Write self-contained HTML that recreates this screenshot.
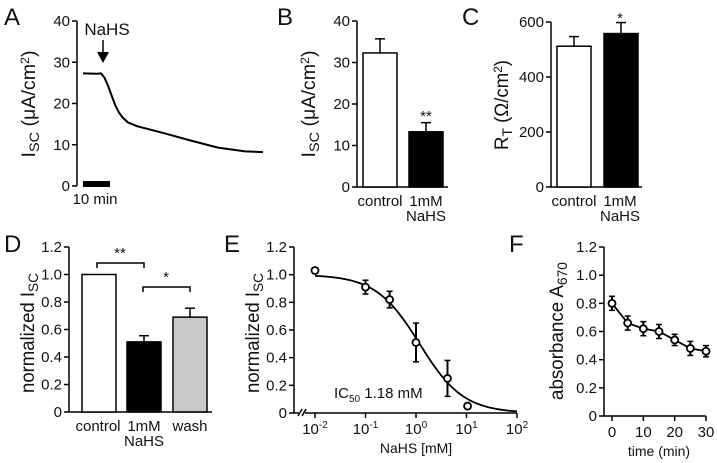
<!DOCTYPE html>
<html><head><meta charset="utf-8"><style>
body{margin:0;background:#fff}
svg{display:block;font-family:"Liberation Sans",Arial,sans-serif}
text{fill:#111}
</style></head><body>
<svg id="s" width="717" height="463" viewBox="0 0 717 463" xmlns="http://www.w3.org/2000/svg"></svg>
<script>
// ---- data ----
const traceT = [0, 8, 10, 12, 14, 16, 18, 20, 22, 25, 30, 45, 60, 75, 90, 100];
const traceV = [27.3, 27.2, 27.3, 26.2, 24.2, 21.8, 19.5, 17.8, 16.6, 15.4, 14.5, 12.8, 11, 9.3, 8.4, 8.2];
const bCats = ["control", "1mM NaHS"];
const bVals = [32.3, 13.3];
const bErrs = [3.4, 2.2];
const cVals = [512, 558];
const cErrs = [35, 40];
const dCats = ["control", "1mM NaHS", "wash"];
const dVals = [1.0, 0.51, 0.69];
const dErrs = [0, 0.045, 0.065];
const eConc = [0.01, 0.1, 0.3, 1, 4.2, 10.5];
const eVals = [1.03, 0.91, 0.82, 0.51, 0.25, 0.05];
const eErrs = [0.02, 0.05, 0.06, 0.14, 0.13, 0.01];
const eIC50 = 1.18;
const fTime = [0, 5, 10, 15, 20, 25, 30];
const fVals = [0.80, 0.66, 0.62, 0.60, 0.54, 0.48, 0.46];
const fErrs = [0.05, 0.05, 0.05, 0.05, 0.04, 0.05, 0.04];
const yTicks12 = [0, 0.2, 0.4, 0.6, 0.8, 1.0, 1.2];
const yTicks40 = [0, 10, 20, 30, 40];
const yTicks600 = [0, 200, 400, 600];

const S = document.getElementById('s');
const NS = 'http://www.w3.org/2000/svg';
function el(tag, attrs, name, txt) {
  const e = document.createElementNS(NS, tag);
  for (const k in attrs) e.setAttribute(k, attrs[k]);
  
  
  if (txt !== undefined) e.innerHTML = txt;
  S.appendChild(e);
  return e;
}
function line(x1,y1,x2,y2,name,w){return el('line',{x1,y1,x2,y2,stroke:'#000','stroke-width':w||1.5},name);}
function txt(x,y,s,name,size,anchor){return el('text',{x,y,'font-size':size||15,'text-anchor':anchor||'middle'},name,s);}
function yAxis(x, y0, y1, vmax, ticks, fmt, name){
  const sc = v => y0 - (y0 - y1) * v / vmax;
  line(x, y0, x, y1, name + '-line');
  ticks.forEach(t => {
    line(x - 5, sc(t), x, sc(t), name + '-tick');
    txt(x - 7, sc(t) + 5, fmt(t), name + '-tick-label', 15, 'end');
  });
  return sc;
}
function ylabel(x, y, len, html, name){
  return el('text',{x:0,y:0,'font-size':19,'text-anchor':'middle',textLength:len,lengthAdjust:'spacingAndGlyphs',transform:`translate(${x},${y}) rotate(-90)`},name,html);
}
function panelLetter(x,y,s){txt(x,y,s,'panel-label-'+s.toLowerCase(),24,'start');}
const f1 = t => t === 0 ? '0' : t.toFixed(1);

// ---- Panel A ----
panelLetter(4, 25, 'A');
const ayA = yAxis(77, 186, 21, 40, yTicks40, t => t, 'a-y-axis');
ylabel(35, 104, 107, 'I<tspan font-size="14" dy="4">SC</tspan><tspan dy="-4"> (μA/cm</tspan><tspan font-size="12" dy="-6">2</tspan><tspan dy="6">)</tspan>', 'a-y-axis-title');
const axA = t => 83 + t * 1.8;
el('polyline',{points: traceT.map((t,i)=>axA(t)+','+ayA(traceV[i])).join(' '),fill:'none',stroke:'#000','stroke-width':2,'stroke-linejoin':'round'},'a-isc-trace');
el('rect',{x:83,y:181,width:27,height:6,fill:'#000'},'a-scale-bar');
txt(95, 204, '10 min', 'a-scale-label', 15);
txt(107, 35, 'NaHS', 'a-nahs-label', 17);
line(103, 40, 103, 56, 'a-arrow-shaft');
el('polygon',{points:'97,52 109,52 103,63',fill:'#000'},'a-arrow-head');

// ---- bar helper ----
function bars(sc, xs, w, vals, errs, fills, name){
  vals.forEach((v,i)=>{
    const y = sc(v);
    if (errs[i] > 0) {
      line(xs[i]+w/2, y, xs[i]+w/2, sc(v+errs[i]), name+'-error-bar');
      line(xs[i]+w/2-5, sc(v+errs[i]), xs[i]+w/2+5, sc(v+errs[i]), name+'-error-cap');
    }
    el('rect',{x:xs[i],y:y,width:w,height:sc(0)-y,fill:fills[i],stroke:'#000','stroke-width':1.5},name+'-bar-'+i);
  });
}

// ---- Panel B ----
panelLetter(277, 25, 'B');
const ayB = yAxis(357, 187, 21, 40, yTicks40, t => t, 'b-y-axis');
line(357,187,448,187,'b-x-axis');
ylabel(315, 104, 107, 'I<tspan font-size="14" dy="4">SC</tspan><tspan dy="-4"> (μA/cm</tspan><tspan font-size="12" dy="-6">2</tspan><tspan dy="6">)</tspan>', 'b-y-axis-title');
bars(ayB, [363, 409], 34, bVals, bErrs, ['#fff','#000'], 'b');
txt(426, 121, '**', 'b-significance', 15);
txt(380, 206, 'control', 'b-x-label', 15);
txt(426, 206, '1mM', 'b-x-label', 15);
txt(426, 221, 'NaHS', 'b-x-label', 15);

// ---- Panel C ----
panelLetter(462, 25, 'C');
const ayC = yAxis(551, 187, 22, 600, yTicks600, t => t, 'c-y-axis');
line(551,187,642,187,'c-x-axis');
ylabel(508, 105, 90, 'R<tspan font-size="14" dy="4">T</tspan><tspan dy="-4"> (Ω/cm</tspan><tspan font-size="12" dy="-6">2</tspan><tspan dy="6">)</tspan>', 'c-y-axis-title');
bars(ayC, [557, 604], 34, cVals, cErrs, ['#fff','#000'], 'c');
txt(620, 23, '*', 'c-significance', 15);
txt(574, 206, 'control', 'c-x-label', 15);
txt(620, 206, '1mM', 'c-x-label', 15);
txt(620, 221, 'NaHS', 'c-x-label', 15);

// ---- Panel D ----
panelLetter(4, 252, 'D');
const ayD = yAxis(69, 412, 247, 1.2, yTicks12, f1, 'd-y-axis');
line(69,412,212,412,'d-x-axis');
ylabel(34, 333, 120, 'normalized I<tspan font-size="14" dy="4">SC</tspan>', 'd-y-axis-title');
bars(ayD, [82, 127, 173], 34, dVals, dErrs, ['#fff','#000','#c8c8c8'], 'd');
el('polyline',{points:'97,268 97,263 144,263 144,268',fill:'none',stroke:'#000','stroke-width':1.5},'d-bracket-1');
txt(120, 258, '**', 'd-significance', 15);
el('polyline',{points:'143,292 143,287 190,287 190,292',fill:'none',stroke:'#000','stroke-width':1.5},'d-bracket-2');
txt(166, 282, '*', 'd-significance', 15);
txt(98, 431, 'control', 'd-x-label', 15);
txt(144, 431, '1mM', 'd-x-label', 15);
txt(144, 446, 'NaHS', 'd-x-label', 15);
txt(190, 431, 'wash', 'd-x-label', 15);

// ---- Panel E ----
panelLetter(224, 252, 'E');
const ayE = yAxis(294, 413, 247, 1.2, yTicks12, f1, 'e-y-axis');
ylabel(259, 333, 120, 'normalized I<tspan font-size="14" dy="4">SC</tspan>', 'e-y-axis-title');
const axE = c => 315 + (Math.log10(c) + 2) * 50.5;
line(294,413,299,413,'e-x-axis-stub');
line(305,413,517,413,'e-x-axis');
line(298,416,302,409,'e-axis-break');line(302,416,306,409,'e-axis-break');
[-2,-1,0,1,2].forEach(p=>{
  const x = axE(Math.pow(10,p));
  line(x,413,x,418,'e-x-tick');
  txt(x,434,'10<tspan font-size="10" dy="-6">'+p+'</tspan>','e-x-tick-label',15);
});
txt(416, 453, 'NaHS [mM]', 'e-x-axis-title', 14);
let pts=[];
for(let k=0;k<=80;k++){const c=Math.pow(10,-2+k*0.05);pts.push(axE(c)+','+ayE(1/(1+c/eIC50)));}
el('polyline',{points:pts.join(' '),fill:'none',stroke:'#000','stroke-width':1.8},'e-fit-curve');
eConc.forEach((c,i)=>{
  const x=axE(c);
  line(x,ayE(eVals[i]-eErrs[i]),x,ayE(eVals[i]+eErrs[i]),'e-error-bar',2);
  line(x-3,ayE(eVals[i]-eErrs[i]),x+3,ayE(eVals[i]-eErrs[i]),'e-error-cap');
  line(x-3,ayE(eVals[i]+eErrs[i]),x+3,ayE(eVals[i]+eErrs[i]),'e-error-cap');
  el('circle',{cx:x,cy:ayE(eVals[i]),r:3.5,fill:'#fff',stroke:'#000','stroke-width':1.8},'e-point');
});
txt(334, 398, 'IC<tspan font-size="10" dy="4">50</tspan><tspan dy="-4"> 1.18 mM</tspan>', 'e-ic50-label', 15, 'start');

// ---- Panel F ----
panelLetter(509, 252, 'F');
const ayF = yAxis(604, 416, 247, 1.2, yTicks12, f1, 'f-y-axis');
ylabel(563, 331, 138, 'absorbance A<tspan font-size="14" dy="4">670</tspan>', 'f-y-axis-title');
const axF = t => 612 + t * 94/30;
line(604,416,706,416,'f-x-axis');
[0,10,20,30].forEach(t=>{line(axF(t),416,axF(t),421,'f-x-tick');txt(axF(t),437,t,'f-x-tick-label',15);});
txt(659, 456, 'time (min)', 'f-x-axis-title', 14);
el('polyline',{points:fTime.map((t,i)=>axF(t)+','+ayF(fVals[i])).join(' '),fill:'none',stroke:'#000','stroke-width':1.8},'f-line');
fTime.forEach((t,i)=>{
  const x=axF(t);
  line(x,ayF(fVals[i]-fErrs[i]),x,ayF(fVals[i]+fErrs[i]),'f-error-bar',2);
  line(x-3,ayF(fVals[i]-fErrs[i]),x+3,ayF(fVals[i]-fErrs[i]),'f-error-cap');
  line(x-3,ayF(fVals[i]+fErrs[i]),x+3,ayF(fVals[i]+fErrs[i]),'f-error-cap');
  el('circle',{cx:x,cy:ayF(fVals[i]),r:3.5,fill:'#fff',stroke:'#000','stroke-width':1.8},'f-point');
});
</script>
</body></html>
